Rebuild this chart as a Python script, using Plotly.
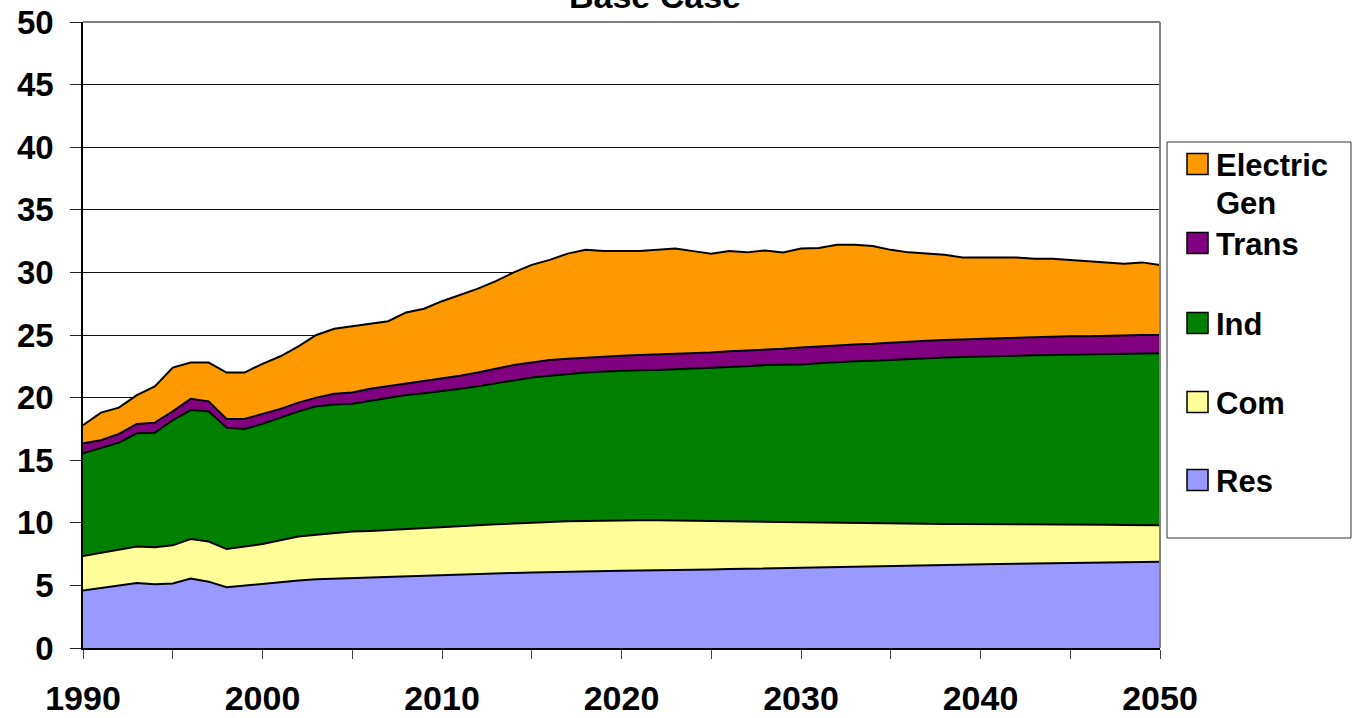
import plotly.graph_objects as go

years = list(range(1990, 2051))

res = [4.6, 4.8, 4.95, 5.2, 5.1, 5.15, 5.55, 5.3, 4.85, 5.0,
       5.1, 5.3, 5.4, 5.5, 5.55, 5.6, 5.65, 5.7, 5.72, 5.76,
       5.8, 5.85, 5.9, 5.95, 6.0, 6.04, 6.08, 6.12, 6.15, 6.17,
       6.18, 6.19, 6.2, 6.22, 6.25, 6.27, 6.3, 6.33, 6.36, 6.4,
       6.42, 6.45, 6.47, 6.5, 6.52, 6.55, 6.57, 6.6, 6.62, 6.65,
       6.67, 6.7, 6.72, 6.75, 6.77, 6.8, 6.82, 6.84, 6.85, 6.87,
       6.88]
com = [2.75, 2.8, 2.85, 2.9, 2.95, 3.05, 3.15, 3.2, 3.05, 3.1,
       3.2, 3.3, 3.5, 3.55, 3.65, 3.7, 3.7, 3.72, 3.78, 3.79,
       3.8, 3.85, 3.9, 3.93, 3.95, 3.98, 4.02, 4.01, 4.0, 4.01,
       4.02, 4.01, 4.0, 3.96, 3.9, 3.85, 3.8, 3.75, 3.69, 3.62,
       3.58, 3.55, 3.51, 3.47, 3.43, 3.39, 3.36, 3.32, 3.28, 3.25,
       3.23, 3.2, 3.18, 3.14, 3.11, 3.07, 3.03, 3.0, 2.98, 2.95,
       2.92]
ind = [8.2, 8.35, 8.6, 9.05, 9.15, 10.0, 10.3, 10.4, 9.7, 9.4,
       9.6, 9.8, 10.0, 10.25, 10.25, 10.2, 10.4, 10.58, 10.7, 10.8,
       10.9, 11.0, 11.1, 11.27, 11.45, 11.58, 11.65, 11.77, 11.85, 11.9,
       11.95, 11.98, 12.0, 12.07, 12.15, 12.23, 12.3, 12.42, 12.55, 12.6,
       12.65, 12.75, 12.87, 12.93, 13.0, 13.08, 13.17, 13.23, 13.3, 13.35,
       13.4, 13.42, 13.45, 13.49, 13.52, 13.58, 13.65, 13.66, 13.67, 13.7,
       13.75]
trans = [0.8, 0.65, 0.7, 0.75, 0.8, 0.7, 0.9, 0.8, 0.7, 0.8,
         0.8, 0.7, 0.7, 0.7, 0.85, 0.9, 0.95, 0.9, 0.9, 0.95,
         1.0, 1.05, 1.1, 1.15, 1.2, 1.2, 1.25, 1.2, 1.2, 1.22,
         1.2, 1.22, 1.25, 1.25, 1.2, 1.25, 1.3, 1.25, 1.25, 1.28,
         1.35, 1.35, 1.35, 1.35, 1.35, 1.38, 1.4, 1.4, 1.4, 1.4,
         1.4, 1.43, 1.45, 1.47, 1.5, 1.45, 1.4, 1.45, 1.5, 1.48,
         1.45]
elec = [1.45, 2.2, 2.1, 2.3, 2.9, 3.5, 2.9, 3.1, 3.7, 3.7,
        4.0, 4.2, 4.5, 5.0, 5.2, 5.3, 5.15, 5.2, 5.7, 5.8,
        6.2, 6.45, 6.7, 7.0, 7.4, 7.8, 8.0, 8.4, 8.6, 8.4,
        8.35, 8.3, 8.35, 8.4, 8.2, 7.9, 8.0, 7.85, 7.9, 7.7,
        7.9, 7.85, 8.0, 7.95, 7.8, 7.4, 7.1, 6.95, 6.8, 6.55,
        6.5, 6.5, 6.4, 6.25, 6.2, 6.1, 6.0, 5.85, 5.7, 5.8,
        5.6]

series_names = ["Res", "Com", "Ind", "Trans", "Electric Gen"]
series_values = [res, com, ind, trans, elec]
series_colors = ["#9999FF", "#FFFF99", "#008000", "#800080", "#FF9900"]

x_tick_vals = [1990, 2000, 2010, 2020, 2030, 2040, 2050]
x_tick_text = ["1990", "2000", "2010", "2020", "2030", "2040", "2050"]
y_tick_vals = [0, 5, 10, 15, 20, 25, 30, 35, 40, 45, 50]

title_text = "Base Case"
legend_labels = ["Electric<br>Gen", "Trans", "Ind", "Com", "Res"]
legend_colors = ["#FF9900", "#800080", "#008000", "#FFFF99", "#9999FF"]

FONT = "Liberation Sans, Arial, sans-serif"
W, H = 1354, 718
L, R, T, B = 83, 1160, 22, 648


def px_x(X):
    return (X - L) / (R - L)


def px_y(Y):
    return (B - Y) / (B - T)


fig = go.Figure()
for name, vals, col in zip(series_names, series_values, series_colors):
    fig.add_trace(go.Scatter(
        x=years, y=vals, name=name, stackgroup="one", mode="lines",
        line=dict(color="black", width=2), fillcolor=col,
        showlegend=False,
    ))

shapes = []
# plot border top and right (gray)
shapes.append(dict(type="line", xref="paper", yref="paper", x0=0, x1=1, y0=1, y1=1,
                   line=dict(color="#808080", width=2), layer="above"))
shapes.append(dict(type="line", xref="paper", yref="paper", x0=1, x1=1, y0=0, y1=1,
                   line=dict(color="#808080", width=2), layer="above"))

# legend box
shapes.append(dict(type="rect", xref="paper", yref="paper",
                   x0=px_x(1167), x1=px_x(1351), y0=px_y(538), y1=px_y(142),
                   line=dict(color="#333333", width=1), fillcolor="white", layer="above"))
legend_y = [164, 243, 323, 402, 480]
annotations = []
LEG_FONT = dict(family=FONT, size=31, color="black")
for lab, col, yc in zip(legend_labels, legend_colors, legend_y):
    shapes.append(dict(type="rect", xref="paper", yref="paper",
                       x0=px_x(1187), x1=px_x(1208), y0=px_y(yc + 10.5), y1=px_y(yc - 10.5),
                       line=dict(color="black", width=1.5), fillcolor=col, layer="above"))
    lines = lab.split("<br>")
    for k, part in enumerate(lines):
        annotations.append(dict(text="<b>%s</b>" % part, xref="paper", yref="paper",
                                x=px_x(1214), y=px_y(yc + 38 * k + 1), xanchor="left", yanchor="middle",
                                showarrow=False, font=LEG_FONT))

annotations.append(dict(text="<b>%s</b>" % title_text, xref="paper", yref="paper",
                        x=px_x(655), y=px_y(-4), xanchor="center", yanchor="middle",
                        showarrow=False, font=dict(family=FONT, size=34, color="black")))

fig.update_layout(
    width=W, height=H,
    margin=dict(l=L, r=W - R, t=T, b=H - B, pad=0),
    paper_bgcolor="white", plot_bgcolor="white",
    shapes=shapes, annotations=annotations,
    showlegend=False,
    xaxis=dict(
        range=[1990, 2050], tickvals=x_tick_vals, ticktext=x_tick_text,
        ticks="outside", ticklen=9, tickcolor="#444444", tickwidth=1,
        showline=True, linecolor="black", linewidth=2,
        showgrid=False, zeroline=False, automargin=False,
        tickfont=dict(family=FONT, size=34, color="black", weight="bold"),
        ticklabelstandoff=10,
        minor=dict(dtick=5, tick0=1990, ticks="outside", ticklen=9, tickcolor="#444444", showgrid=False),
    ),
    yaxis=dict(
        range=[0, 50], tickvals=y_tick_vals,
        ticks="outside", ticklen=11, tickcolor="#222222", tickwidth=1,
        showline=True, linecolor="black", linewidth=1.5,
        showgrid=True, gridcolor="#111111", gridwidth=1,
        zeroline=False, automargin=False,
        tickfont=dict(family=FONT, size=33, color="black", weight="bold"),
        ticklabelstandoff=10,
    ),
)

fig.write_html("out.html")
